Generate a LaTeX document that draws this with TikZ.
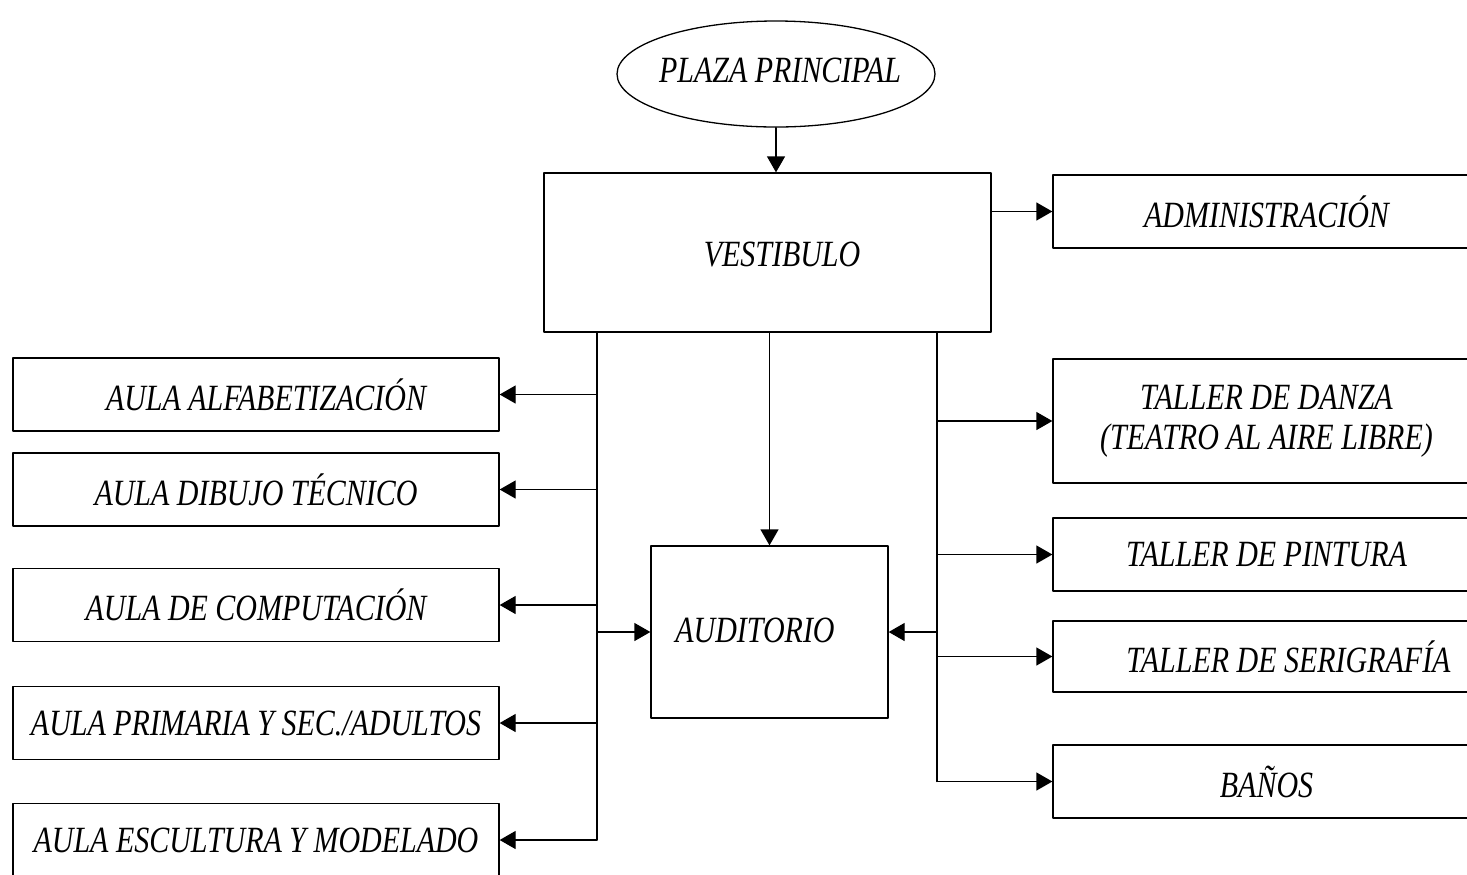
\documentclass[tikz,border=0pt]{standalone}
\usepackage{fontspec}
\setmainfont{Liberation Serif}[FakeStretch=0.81]
\usetikzlibrary{arrows.meta,shapes.geometric}

\begin{document}
\begin{tikzpicture}[x=0.5pt, y=-0.5pt, line cap=round, line join=round, line width=0.65pt,
    font=\fontsize{18.5}{20}\selectfont\itshape, >={Triangle[length=8pt,width=9pt]}]
    \tikzset{caja/.style={draw, inner sep=0pt, align=center},
             izq/.style={caja, minimum width=243pt, minimum height=36.5pt},
             der/.style={caja, minimum width=213.5pt, minimum height=36.5pt}}
    \useasboundingbox (0,0) rectangle (1467,874);
    % plaza y vestibulo
    \node[draw, ellipse, inner sep=0pt, minimum width=159pt, minimum height=53pt] (plaza) at (776,74) {};
    \node (plazat) at (780,70) {PLAZA PRINCIPAL};
    \node[caja, minimum width=223.5pt, minimum height=79.5pt] (vest) at (767.5,252.5) {};
    \node (vestt) at (782,255) {VESTIBULO};
    \node[caja, minimum width=118.5pt, minimum height=86pt] (aud) at (769.5,632) {};
    \node (audt) at (755,630) {AUDITORIO};
    % aulas
    \node[izq] (alfa) at (256,394.5) {\hspace*{10pt}AULA ALFABETIZACIÓN};
    \node[izq] (dibujo) at (256,489.5) {AULA DIBUJO TÉCNICO};
    \node[izq] (compu) at (256,605) {AULA DE COMPUTACIÓN};
    \node[izq] (prim) at (256,723) {AULA PRIMARIA Y SEC./ADULTOS};
    \node[izq] (escul) at (256,840) {AULA ESCULTURA Y MODELADO};
    % talleres
    \node[der] (admin) at (1266.5,211.5) {ADMINISTRACIÓN};
    \node[der, minimum height=62pt] (danza) at (1266.5,421) {TALLER DE DANZA\\(TEATRO AL AIRE LIBRE)};
    \node[der] (pint) at (1266.5,554.5) {TALLER DE PINTURA};
    \node[der, minimum height=35.5pt] (seri) at (1266.5,656.5) {\hspace*{22pt}TALLER DE SERIGRAFÍA};
    \node[der] (banos) at (1266.5,781.5) {BAÑOS};
    \coordinate (lt) at (597,332);
    \coordinate (rt) at (937,332);
    % conexiones
    \draw[->] (plaza.south) -- (plaza.south |- vest.north);
    \draw[->] (admin.west -| vest.east) -- (admin.west);
    \draw[->] (vest.south -| aud.north) -- (aud.north);
    \draw (lt) -- (lt |- escul.east);
    \foreach \n in {alfa,dibujo,compu,prim,escul}
        \draw[->] (lt |- \n.east) -- (\n.east);
    \draw[->] (lt |- aud.west) -- (aud.west);
    \draw (rt) -- (rt |- banos.west);
    \foreach \n in {danza,pint,seri,banos}
        \draw[->] (rt |- \n.west) -- (\n.west);
    \draw[->] (rt |- aud.east) -- (aud.east);
\end{tikzpicture}
\end{document}
